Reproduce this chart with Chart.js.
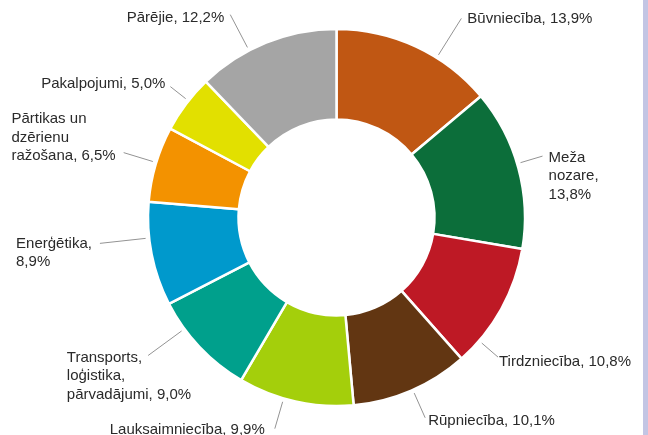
<!DOCTYPE html>
<html>
<head>
<meta charset="utf-8">
<script src="https://cdn.jsdelivr.net/npm/chart.js@4"></script>
<style>
  html, body { margin: 0; padding: 0; background: #fff; }
  #wrap { position: relative; width: 648px; height: 435px; overflow: hidden; }
  #bar { position: absolute; left: 643px; top: 0; width: 5px; height: 435px; background: #c3c5e4; }
</style>
</head>
<body>
<div id="wrap">
  <canvas id="nozares" width="648" height="435"></canvas>
  <div id="bar"></div>
</div>
<script>
/* Dati */

const nozares = [
  "Būvniecība",
  "Meža nozare",
  "Tirdzniecība",
  "Rūpniecība",
  "Lauksaimniecība",
  "Transports, loģistika, pārvadājumi",
  "Enerģētika",
  "Pārtikas un dzērienu ražošana",
  "Pakalpojumi",
  "Pārējie"
];
const procenti = [13.9, 13.8, 10.8, 10.1, 9.9, 9.0, 8.9, 6.5, 5.0, 12.2];
const krasas = [
  "#c05713", "#0c6e3a", "#be1925", "#623612", "#a4cf0b",
  "#00a08c", "#0099cc", "#f39200", "#e2e000", "#a5a5a5"
];

/* Etiķešu izkārtojums: līnijas leņķa nobīde (grādos), garums, atstarpe, vertikālā nobīde, rindu dalījums */
const etiketes = [
  { shift: 7.1,  len: 46.5, gap: 6,  dy: -1, wrap: [3], attach: 0 },
  { shift: -1.4, len: 26.5, gap: 6,  dy: 0,  wrap: [1, 1, 1], attach: 0 },
  { shift: 11.8, len: 25,   gap: 1,  dy: 3,  wrap: [3], attach: 0 },
  { shift: -0.5, len: 30.5, gap: 3,  dy: 2,  wrap: [3], attach: 0 },
  { shift: 3.7,  len: 31.5, gap: 10, dy: 0,  wrap: [2], attach: 0 },
  { shift: 7.2,  len: 45,   gap: 6,  dy: 1,  wrap: [1, 1, 2], attach: 0 },
  { shift: 5,    len: 49.5, gap: 8,  dy: -1, wrap: [1, 1], attach: 0 },
  { shift: 0.5,  len: 34,   gap: 8,  dy: 2,  wrap: [2, 1, 2], attach: 2 },
  { shift: 1.1,  len: 23,   gap: 5,  dy: -4, wrap: [2], attach: 0 },
  { shift: -5.7, len: 40.5, gap: 6,  dy: 2,  wrap: [3], attach: 0 }
];

function formatet(v) {
  return v.toFixed(1).replace(".", ",") + "%";
}

function rindas(i) {
  const vardi = (nozares[i] + ", " + formatet(procenti[i])).split(" ");
  const out = [];
  let k = 0;
  etiketes[i].wrap.forEach(function (n, j) {
    const last = j === etiketes[i].wrap.length - 1;
    out.push(vardi.slice(k, last ? vardi.length : k + n).join(" "));
    k += n;
  });
  return out;
}

/* Ārējās etiķetes ar līnijām */

const arejasEtiketes = {
  id: "arejasEtiketes",
  afterDatasetsDraw(chart) {
    const ctx = chart.ctx;
    const meta = chart.getDatasetMeta(0);
    ctx.save();
    ctx.font = "15px 'Liberation Sans'";
    ctx.textBaseline = "alphabetic";
    ctx.textAlign = "left";
    meta.data.forEach(function (arc, i) {
      const e = etiketes[i];
      const a = (arc.startAngle + arc.endAngle) / 2 + e.shift * Math.PI / 180;
      const r0 = arc.outerRadius + 3.5;
      const r1 = arc.outerRadius + e.len;
      const sx = arc.x + r0 * Math.cos(a), sy = arc.y + r0 * Math.sin(a);
      const ex = arc.x + r1 * Math.cos(a), ey = arc.y + r1 * Math.sin(a);

      ctx.strokeStyle = "#939393";
      ctx.lineWidth = 1;
      ctx.beginPath();
      ctx.moveTo(sx, sy);
      ctx.lineTo(ex, ey);
      ctx.stroke();

      const lines = rindas(i);
      const lh = 18.5;
      let x;
      if (ex >= arc.x) {
        x = ex + e.gap;
      } else {
        x = ex - e.gap - ctx.measureText(lines[e.attach]).width;
      }
      const base0 = ey + e.dy + 5.5 - e.attach * lh;
      ctx.fillStyle = "#2a2a2a";
      lines.forEach(function (t, j) {
        ctx.fillText(t, x, base0 + j * lh);
      });
    });
    ctx.restore();
  }
};

const config = {
  type: "doughnut",
  data: {
    labels: nozares,
    datasets: [
      {
        data: procenti,
        backgroundColor: krasas,
        borderColor: "#ffffff",
        borderWidth: 2.5,
      },
    ],
  },
  options: {
    responsive: false,
    animation: false,
    devicePixelRatio: 1,
    radius: 188.5,
    cutout: "52%",
    layout: { padding: { left: 49, right: 24, top: 0, bottom: 0 } },
    plugins: {
      legend: { display: false },
      tooltip: { enabled: false },
    },
  },
  plugins: [arejasEtiketes],
};

const myChart = new Chart(document.getElementById("nozares"), config);
</script>
</body>
</html>
